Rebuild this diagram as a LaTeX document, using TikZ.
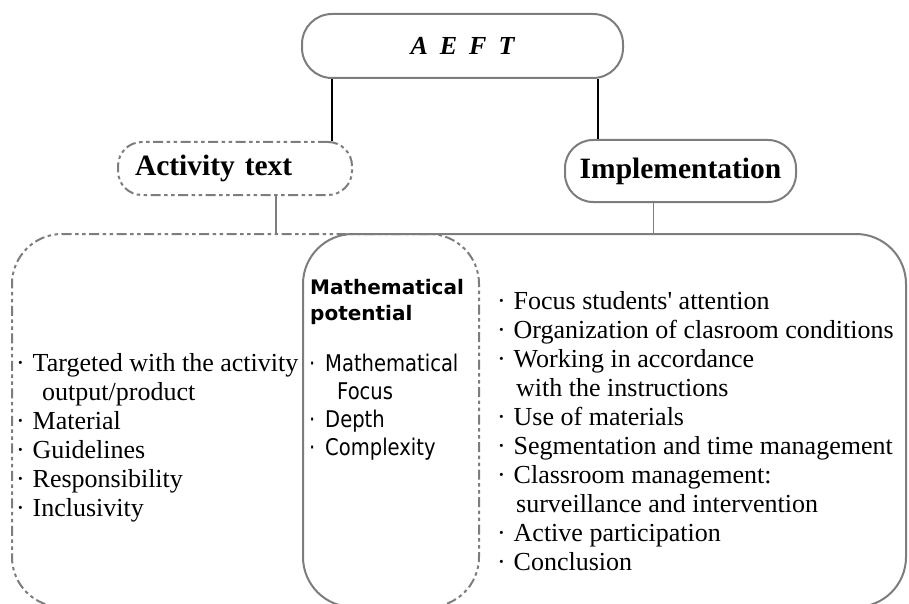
\documentclass[tikz,border=0pt]{standalone}
\usepackage{fontspec}
\setmainfont{Liberation Serif}
\newfontfamily\verdfont{DejaVu Sans}
\newfontfamily\verdnarrow[FakeStretch=0.85]{DejaVu Sans}
\usepackage{tikz}
\definecolor{boxgray}{RGB}{125,125,125}
\tikzset{
  boxline/.style={draw=boxgray,line width=2pt},
  dashline/.style={boxline,dash pattern=on 10pt off 3.5pt on 3.5pt off 3.5pt on 3.5pt off 3.5pt},
  serifitem/.style={anchor=base west,inner sep=0pt,font=\fontsize{26pt}{29pt}\selectfont},
  sansitem/.style={anchor=base west,inner sep=0pt,font=\verdnarrow\fontsize{23pt}{28pt}\selectfont},
  headfont/.style={font=\bfseries\fontsize{29.5pt}{32pt}\selectfont}
}
\newcommand{\itm}{\makebox[16.5pt][l]{·}}
\newcommand{\sitm}{\makebox[16pt][l]{·}}
\begin{document}
\begin{tikzpicture}[line cap=butt,line join=round,x=1pt,y=-1pt]
	\useasboundingbox (0,0) rectangle (909,604);
	\node[boxline,rounded corners=30pt,minimum width=321pt,minimum height=64pt,
	  font=\bfseries\itshape\fontsize{26pt}{28pt}\selectfont] (aeft) at (462.5,46) {A\hspace{12pt}E\hspace{12pt}F\hspace{12pt}T\hspace{16pt}};
	\node[dashline,headfont,rounded corners=24pt,minimum height=53pt,text width=200pt,
	  inner xsep=17pt,align=left] (activity) at (235,168.5) {Activity text};
	\node[boxline,headfont,rounded corners=28pt,minimum width=231pt,minimum height=62pt] (impl) at (680.5,171) {Implementation};

	\node[dashline,rounded corners=50pt,minimum width=467pt,minimum height=373pt] (actbox) at (245.5,420.5) {};
	\node[boxline,rounded corners=50pt,minimum width=603pt,minimum height=373pt] (implbox) at (604.5,420.5) {};

	\coordinate (a1) at ([xshift=97pt]activity.north);
	\coordinate (i1) at ([xshift=-82.5pt]impl.north);
	\draw[line width=1.8pt] (a1) -- (a1 |- aeft.south);
	\draw[line width=1.8pt] (i1) -- (i1 |- aeft.south);
	\coordinate (a2) at ([xshift=41pt]activity.south);
	\coordinate (i2) at ([xshift=-27pt]impl.south);
	\draw[boxline,line width=1.8pt] (a2) -- (a2 |- actbox.north);
	\draw[boxline,line width=1.8pt] (i2) -- (i2 |- implbox.north);

	\foreach \txt [count=\i] in {{\itm Targeted with the activity},{\hspace{26pt}output/product},
	  {\itm Material},{\itm Guidelines},{\itm Responsibility},{\itm Inclusivity}}
	\node[serifitem] (act-\i) at (16,{371+29*(\i-1)}) {\txt};

	\node[sansitem,font=\verdfont\bfseries\fontsize{20pt}{26pt}\selectfont] (pot-a) at (310,294) {Mathematical};
	\node[sansitem,font=\verdfont\bfseries\fontsize{20pt}{26pt}\selectfont] (pot-b) at (310,320) {potential};
	\foreach \txt [count=\i] in {{\sitm Mathematical},{\hspace{28pt}Focus},{\sitm Depth},{\sitm Complexity}}
	\node[sansitem] (pot-\i) at (309,{371+28*(\i-1)}) {\txt};

	\foreach \txt [count=\i] in {{\itm Focus students\textquotesingle{} attention},{\itm Organization of clasroom conditions},
	  {\itm Working in accordance},{\hspace{19pt}with the instructions},{\itm Use of materials},
	  {\itm Segmentation and time management},{\itm Classroom management:},
	  {\hspace{19pt}surveillance and intervention},{\itm Active participation},{\itm Conclusion}}
	\node[serifitem] (imp-\i) at (497,{309+29*(\i-1)}) {\txt};
\end{tikzpicture}
\end{document}
